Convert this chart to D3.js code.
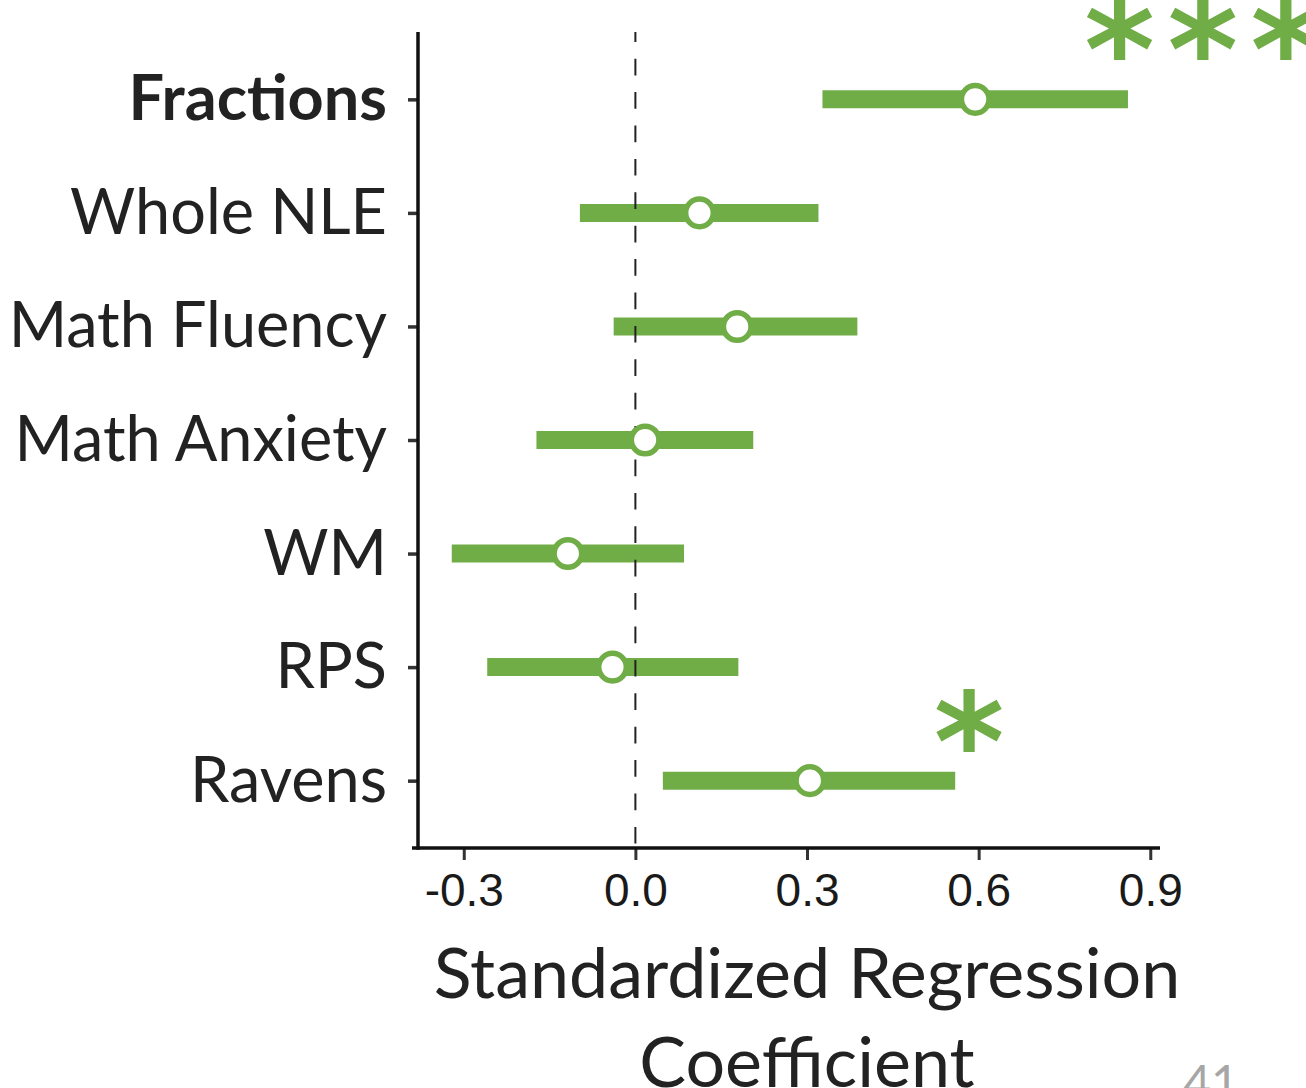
<!DOCTYPE html>
<html>
<head>
<meta charset="utf-8">
<script src="https://cdn.jsdelivr.net/npm/d3@7"></script>
<style>
  html, body { margin: 0; padding: 0; background: #ffffff; overflow: hidden; }
  svg { display: block; }
</style>
</head>
<body>
<div id="chart"></div>
<script>
// Predictors, top to bottom
const categories = ["Fractions", "Whole NLE", "Math Fluency", "Math Anxiety", "WM", "RPS", "Ravens"];
// Standardized coefficient estimates and confidence bounds
const estimates = [0.594, 0.112, 0.178, 0.017, -0.118, -0.040, 0.305];
const lowerBounds = [0.327, -0.097, -0.038, -0.173, -0.321, -0.259, 0.048];
const upperBounds = [0.861, 0.320, 0.388, 0.206, 0.085, 0.180, 0.559];
// Significance markers per predictor
const significance = ["***", "", "", "", "", "", "*"];
// Highlighted predictor (bold label)
const boldCategories = ["Fractions"];
// X axis ticks
const xTickValues = [-0.3, 0.0, 0.3, 0.6, 0.9];
const xTickLabels = ["-0.3", "0.0", "0.3", "0.6", "0.9"];
const xAxisTitle = ["Standardized Regression", "Coefficient"];
const pageNumber = "41";

const W = 1306, H = 1088;
const green = "#70AD47";
const ink = "#222222";
const labelFont = "Lato, 'Open Sans', sans-serif";
const starFont = "'DejaVu Sans', sans-serif";

const svg = d3.select("#chart").append("svg")
  .attr("width", W).attr("height", H)
  .attr("viewBox", `0 0 ${W} ${H}`);

const panel = { left: 418, right: 1160, top: 32, bottom: 848 };

const x = d3.scaleLinear()
  .domain([-0.380, 0.917])
  .range([panel.left, panel.right]);

const y = d3.scalePoint()
  .domain(categories)
  .range([panel.top, panel.bottom])
  .padding(0.593);

const rows = categories.map((c, i) => ({
  name: c, est: estimates[i], lo: lowerBounds[i], hi: upperBounds[i], sig: significance[i]
}));

// Confidence interval bars
svg.append("g").selectAll("line")
  .data(rows).join("line")
  .attr("x1", d => x(d.lo)).attr("x2", d => x(d.hi))
  .attr("y1", d => y(d.name)).attr("y2", d => y(d.name))
  .attr("stroke", green).attr("stroke-width", 18);

// Zero reference line
svg.append("line")
  .attr("x1", x(0)).attr("x2", x(0))
  .attr("y1", panel.top).attr("y2", panel.bottom)
  .attr("stroke", ink).attr("stroke-width", 2)
  .attr("stroke-dasharray", "16.7,16.7")
  .attr("stroke-dashoffset", 6.7);

// Point estimates
svg.append("g").selectAll("circle")
  .data(rows).join("circle")
  .attr("cx", d => x(d.est)).attr("cy", d => y(d.name))
  .attr("r", 13.8)
  .attr("fill", "#ffffff").attr("stroke", green).attr("stroke-width", 5.5);

// X axis
const xAxis = d3.axisBottom(x)
  .tickValues(xTickValues)
  .tickFormat((d, i) => xTickLabels[i])
  .tickSizeInner(12).tickSizeOuter(0).tickPadding(8);

const gx = svg.append("g")
  .attr("transform", `translate(0,${panel.bottom})`)
  .call(xAxis);
gx.select(".domain").remove();
gx.selectAll(".tick line").attr("stroke", "#333").attr("stroke-width", 3);
gx.selectAll(".tick text")
  .attr("fill", "#1a1a1a")
  .attr("font-family", "'Liberation Sans', Arial, sans-serif")
  .attr("font-size", 46)
  .attr("dy", null).attr("y", 58);

// Y axis
const yAxis = d3.axisLeft(y).tickSizeInner(10).tickSizeOuter(0).tickFormat("");
const gy = svg.append("g")
  .attr("transform", `translate(${panel.left},0)`)
  .call(yAxis);
gy.select(".domain").remove();
gy.selectAll(".tick line").attr("stroke", "#333").attr("stroke-width", 3.5);

// Category labels
svg.append("g").selectAll("text")
  .data(rows).join("text")
  .attr("x", 387).attr("y", d => y(d.name) + 21)
  .attr("text-anchor", "end")
  .attr("font-family", labelFont)
  .attr("font-size", 63)
  .attr("font-weight", d => boldCategories.includes(d.name) ? 700 : 400)
  .attr("fill", ink)
  .text(d => d.name);

// Axis lines
svg.append("line")
  .attr("x1", panel.left).attr("x2", panel.left)
  .attr("y1", panel.top).attr("y2", panel.bottom + 1.75)
  .attr("stroke", "#111").attr("stroke-width", 3.5);
svg.append("line")
  .attr("x1", panel.left - 6).attr("x2", panel.right)
  .attr("y1", panel.bottom).attr("y2", panel.bottom)
  .attr("stroke", "#111").attr("stroke-width", 3.5);

// Significance stars
svg.append("text")
  .attr("x", 1209).attr("y", 98)
  .attr("text-anchor", "middle")
  .attr("font-family", starFont).attr("font-weight", 700)
  .attr("font-size", 135).attr("fill", green)
  .attr("letter-spacing", 12.5)
  .text(significance[0]);
svg.append("text")
  .attr("x", 969).attr("y", 790)
  .attr("text-anchor", "middle")
  .attr("font-family", starFont).attr("font-weight", 700)
  .attr("font-size", 135).attr("fill", green)
  .text(significance[6]);

// Axis title
svg.append("g").selectAll("text")
  .data(xAxisTitle).join("text")
  .attr("x", 807).attr("y", (d, i) => 998 + i * 89)
  .attr("text-anchor", "middle")
  .attr("font-family", labelFont)
  .attr("font-size", 70)
  .attr("fill", ink)
  .text(d => d);

// Slide number
svg.append("text")
  .attr("x", 1211).attr("y", 1100)
  .attr("text-anchor", "middle")
  .attr("font-family", labelFont)
  .attr("font-size", 48)
  .attr("fill", "#a6a6a6")
  .text(pageNumber);
</script>
</body>
</html>
